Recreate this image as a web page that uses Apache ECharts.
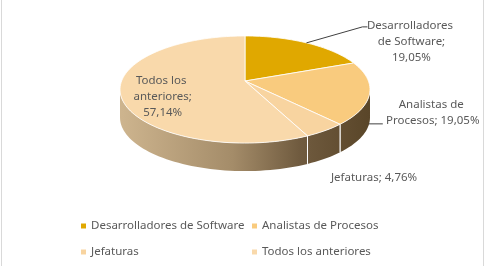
<!DOCTYPE html>
<html>
<head>
<meta charset="utf-8">
<script src="https://cdn.jsdelivr.net/npm/echarts@6/dist/echarts.min.js"></script>
<style>
  html, body { margin: 0; padding: 0; background: #fff; }
  #chart { width: 492px; height: 266px; }
</style>
</head>
<body>
<div id="chart"></div>
<script>
// datos del gráfico
const categories = ['Desarrolladores de Software', 'Analistas de Procesos', 'Jefaturas', 'Todos los anteriores'];
const values = [4, 4, 1, 12];
const sliceColors = ['#E0A800', '#F9CB7E', '#F8D4A0', '#F9D9AB'];

// geometría del pastel 3D: círculo en perspectiva
const cx = 245, apexY = 81, rx = 123.4, ry = 52.2, persp = 0.159, depth = 28;
// etiquetas: desplazamiento desde el borde, ancho de corte, % en nueva línea
const labelLayout = [
  { dx: 105, dy: -1, width: 92, newline: true, inside: false },
  { dx: 63, dy: 20, width: 112, newline: false, inside: false },
  { dx: 49, dy: 47, width: 0, newline: false, inside: false },
  { dx: 0, dy: 8, width: 72, newline: true, inside: true }
];

const total = values.reduce((a, b) => a + b, 0);
const starts = [];
let acc = 0;
values.forEach(v => { starts.push(acc / total * 360); acc += v; });
const pct = v => (v / total * 100).toFixed(2).replace('.', ',') + '%';

const rad = d => d * Math.PI / 180;
const edge = (deg, dy) => {
  const s = 1 / (1 + persp * Math.cos(rad(deg)));
  return [cx + rx * Math.sin(rad(deg)) * s, apexY - ry * Math.cos(rad(deg)) * s + (dy || 0)];
};
const arc = (a, b, dy) => {
  const pts = [];
  const n = Math.max(2, Math.ceil(Math.abs(b - a) / 2));
  for (let k = 0; k <= n; k++) pts.push(edge(a + (b - a) * k / n, dy));
  return pts;
};
// tramo visible de la pared lateral
const sideA = Math.acos(-persp) * 180 / Math.PI;
const sideB = 360 - sideA;

const sideFill = {
  type: 'linear', x: cx - rx, y: 0, x2: cx + rx, y2: 0, global: true,
  colorStops: [
    { offset: 0, color: '#CDB48E' },
    { offset: 0.45, color: '#A48C69' },
    { offset: 0.72, color: '#705B3F' },
    { offset: 1, color: '#5A4629' }
  ]
};

function renderSlice(params, api) {
  const i = params.dataIndex;
  const a = starts[i];
  const b = a + values[i] / total * 360;
  const apex = [cx, apexY];
  const children = [];

  // pared lateral (solo mitad frontal)
  const s0 = Math.max(a, sideA), s1 = Math.min(b, sideB);
  if (s1 > s0) {
    const top = arc(s0, s1, 0);
    const bottom = arc(s1, s0, depth);
    children.push({ type: 'polygon', shape: { points: top.concat(bottom) }, style: { fill: sideFill } });
    [a, b].forEach(t => {
      if (t > sideA && t < sideB) {
        const p = edge(t, 0);
        children.push({ type: 'line', shape: { x1: p[0], y1: p[1], x2: p[0], y2: p[1] + depth }, style: { stroke: '#fff', lineWidth: 1 } });
      }
    });
  }

  // cara superior
  children.push({
    type: 'polygon',
    shape: { points: [apex].concat(arc(a, b, 0)) },
    style: { fill: sliceColors[i], stroke: '#fff', lineWidth: 0.8 }
  });

  // etiqueta
  const L = labelLayout[i];
  const mid = (a + b) / 2;
  const e = edge(mid, 0);
  const text = categories[i] + ';' + (L.newline ? '\n' : ' ') + pct(values[i]);
  const pos = L.inside
    ? [apex[0] + (e[0] - apex[0]) * 0.66 + L.dx, apex[1] + (e[1] - apex[1]) * 0.66 + L.dy]
    : [e[0] + L.dx, e[1] + L.dy];
  children.push({
    type: 'text',
    x: pos[0], y: pos[1],
    style: {
      text: text,
      width: L.width || undefined,
      overflow: L.width ? 'break' : 'none',
      align: 'center', verticalAlign: 'middle',
      fill: '#595959', fontSize: 11.5, lineHeight: 16,
      fontFamily: 'Noto Sans'
    }
  });
  // líneas guía
  let guide = null;
  if (i === 0) {
    const p1 = [pos[0] - 49, pos[1] - 15];
    guide = [e, p1, [p1[0] + 5, p1[1]]];
  } else if (i === 1) {
    const p0 = edge(mid + 4, depth - 1);
    guide = [p0, [p0[0] + 14, p0[1]]];
  }
  if (guide) {
    children.push({ type: 'polyline', shape: { points: guide }, style: { stroke: '#404040', lineWidth: 1, fill: null } });
  }
  return { type: 'group', children: children };
}

const chart = echarts.init(document.getElementById('chart'));
const legendBase = {
  orient: 'vertical', top: 219, padding: 0, itemWidth: 5, itemHeight: 5, itemGap: 12, icon: 'rect',
  selectedMode: false,
  textStyle: { color: '#595959', fontSize: 11.5, fontFamily: 'Noto Sans', lineHeight: 14 }
};
chart.setOption({
  animation: false,
  color: sliceColors,
  graphic: [{
    type: 'rect', shape: { x: 1.5, y: -2, width: 482, height: 272 },
    style: { fill: null, stroke: '#D9D9D9', lineWidth: 1 }, silent: true
  }],
  legend: [
    Object.assign({}, legendBase, { left: 81, data: [categories[0], categories[2]] }),
    Object.assign({}, legendBase, { left: 252, data: [categories[1], categories[3]] })
  ],
  series: [
    {
      type: 'custom', coordinateSystem: 'none', renderItem: renderSlice,
      data: values.map((v, i) => ({ name: categories[i], value: v })),
      silent: true
    },
    {
      // solo para la leyenda
      type: 'pie', radius: [0, 0], center: [-100, -100], silent: true,
      label: { show: false }, labelLine: { show: false },
      data: values.map((v, i) => ({ name: categories[i], value: v }))
    }
  ]
});
</script>
</body>
</html>
